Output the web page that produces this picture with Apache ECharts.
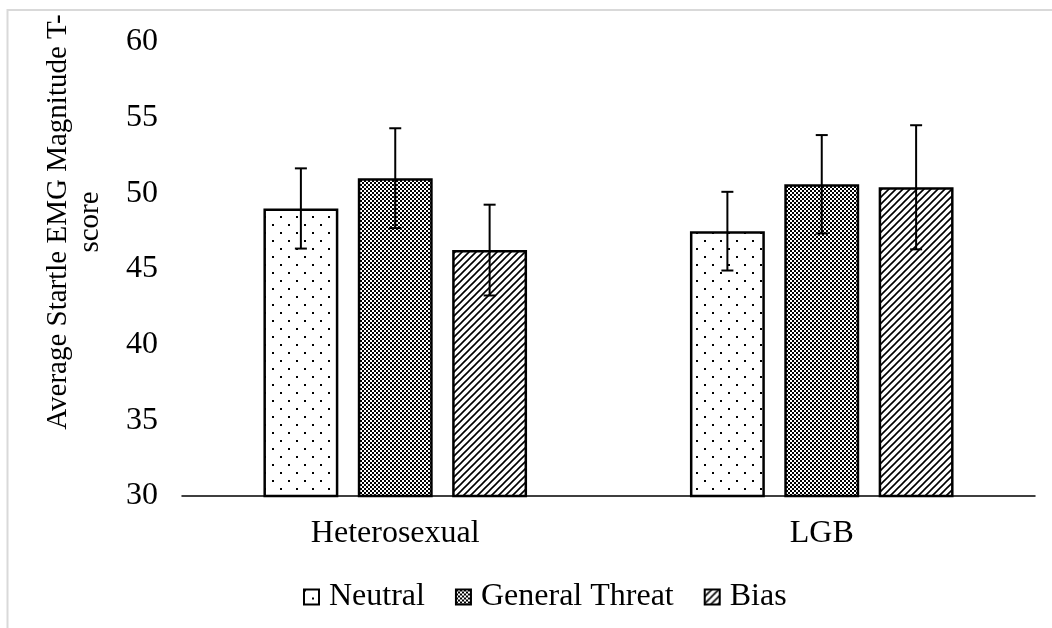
<!DOCTYPE html>
<html>
<head>
<meta charset="utf-8">
<script src="https://cdn.jsdelivr.net/npm/echarts@6/dist/echarts.min.js"></script>
<style>
html,body{margin:0;padding:0;background:#fff;}
#chart{width:1052px;height:628px;}
</style>
</head>
<body>
<div id="chart"></div>
<script>
// ---- data ----
const categories = ['Heterosexual', 'LGB'];
const seriesNames = ['Neutral', 'General Threat', 'Bias'];
const neutralValues = [49.0, 47.5];
const neutralErrors = [2.65, 2.6];
const threatValues = [51.0, 50.6];
const threatErrors = [3.3, 3.25];
const biasValues = [46.25, 50.4];
const biasErrors = [3.0, 4.1];
const yTicks = [30, 35, 40, 45, 50, 55, 60];
const yTitle = 'Average Startle EMG Magnitude T-\nscore';

// ---- fill patterns ----
function makeTile(w, h, draw) {
  const c = document.createElement('canvas');
  c.width = w; c.height = h;
  const ctx = c.getContext('2d');
  ctx.fillStyle = '#fff';
  ctx.fillRect(0, 0, w, h);
  ctx.fillStyle = '#000';
  ctx.strokeStyle = '#000';
  draw(ctx);
  return { image: c, repeat: 'repeat' };
}
const dotPattern = makeTile(16, 16, ctx => {
  ctx.fillRect(0, 0, 2, 2);
  ctx.fillRect(8, 8, 2, 2);
});
const checkPattern = makeTile(4, 4, ctx => {
  ctx.fillRect(0, 0, 2, 2);
  ctx.fillRect(2, 2, 2, 2);
  ctx.fillRect(1, 1, 1, 1);
});
const diagPattern = makeTile(7, 7, ctx => {
  ctx.lineWidth = 1.6;
  ctx.beginPath();
  ctx.moveTo(-1, 8); ctx.lineTo(8, -1);
  ctx.moveTo(-8, 8); ctx.lineTo(1, -1);
  ctx.moveTo(6, 8); ctx.lineTo(15, -1);
  ctx.stroke();
});
const patterns = [dotPattern, checkPattern, diagPattern];

const FONT = 'Liberation Serif';
const FS = 32;
const BAR_FRAC = 0.1756;
const BAR_GAP = 0.26;

const values = [neutralValues, threatValues, biasValues];
const errors = [neutralErrors, threatErrors, biasErrors];

const barSeries = seriesNames.map((name, k) => ({
  name: name,
  type: 'bar',
  data: values[k],
  barWidth: (BAR_FRAC * 100) + '%',
  barGap: (BAR_GAP * 100) + '%',
  itemStyle: { color: patterns[k], borderColor: '#000', borderWidth: 2.5 },
  emphasis: { disabled: true },
  z: 2
}));

const errSeries = seriesNames.map((name, k) => ({
  name: name + ' error',
  type: 'custom',
  z: 5,
  silent: true,
  data: categories.map((c, i) => [i, values[k][i], errors[k][i]]),
  renderItem: function (params, api) {
    const ci = api.value(0), v = api.value(1), e = api.value(2);
    const top = api.coord([ci, v + e]);
    const bot = api.coord([ci, v - e]);
    const band = api.size([1, 0])[0];
    const bw = band * BAR_FRAC;
    const cx = top[0] + (k - 1) * bw * (1 + BAR_GAP);
    const st = { stroke: '#000', lineWidth: 2 };
    const hw = 6;
    return {
      type: 'group',
      children: [
        { type: 'line', shape: { x1: cx, y1: top[1], x2: cx, y2: bot[1] }, style: st },
        { type: 'line', shape: { x1: cx - hw, y1: top[1], x2: cx + hw, y2: top[1] }, style: st },
        { type: 'line', shape: { x1: cx - hw, y1: bot[1], x2: cx + hw, y2: bot[1] }, style: st }
      ]
    };
  }
}));

const chart = echarts.init(document.getElementById('chart'), null, { renderer: 'canvas' });
chart.setOption({
  animation: false,
  backgroundColor: '#fff',
  textStyle: { fontFamily: FONT, color: '#000' },
  grid: { left: 182, right: 17, top: 42, bottom: 132, containLabel: false },
  legend: {
    data: seriesNames,
    bottom: 10,
    left: 298,
    icon: 'rect',
    itemWidth: 15,
    itemHeight: 15,
    itemGap: 30,
    itemStyle: { borderColor: '#000', borderWidth: 2 },
    textStyle: { fontFamily: FONT, fontSize: FS, color: '#000', padding: [0, 0, 0, 5] },
    selectedMode: false
  },
  xAxis: {
    type: 'category',
    data: categories,
    axisLine: { lineStyle: { color: '#000', width: 1.5 } },
    axisTick: { show: false },
    axisLabel: { fontFamily: FONT, fontSize: FS, color: '#000', margin: 22 }
  },
  yAxis: {
    type: 'value',
    min: yTicks[0],
    max: yTicks[yTicks.length - 1],
    interval: 5,
    axisLine: { show: false },
    axisTick: { show: false },
    splitLine: { show: false },
    axisLabel: { fontFamily: FONT, fontSize: FS, color: '#000', margin: 24 }
  },
  graphic: [
    {
      type: 'rect', silent: true, z: -1,
      shape: { x: 7.5, y: 10, width: 1200, height: 800 },
      style: { fill: 'none', stroke: '#d9d9d9', lineWidth: 2 }
    },
    {
      type: 'text', silent: true,
      x: 74, y: 222, rotation: Math.PI / 2,
      style: {
        text: yTitle, fontFamily: FONT, fontSize: 29, fill: '#000',
        align: 'center', verticalAlign: 'middle', lineHeight: 32
      }
    }
  ],
  series: barSeries.concat(errSeries)
});
</script>
</body>
</html>
